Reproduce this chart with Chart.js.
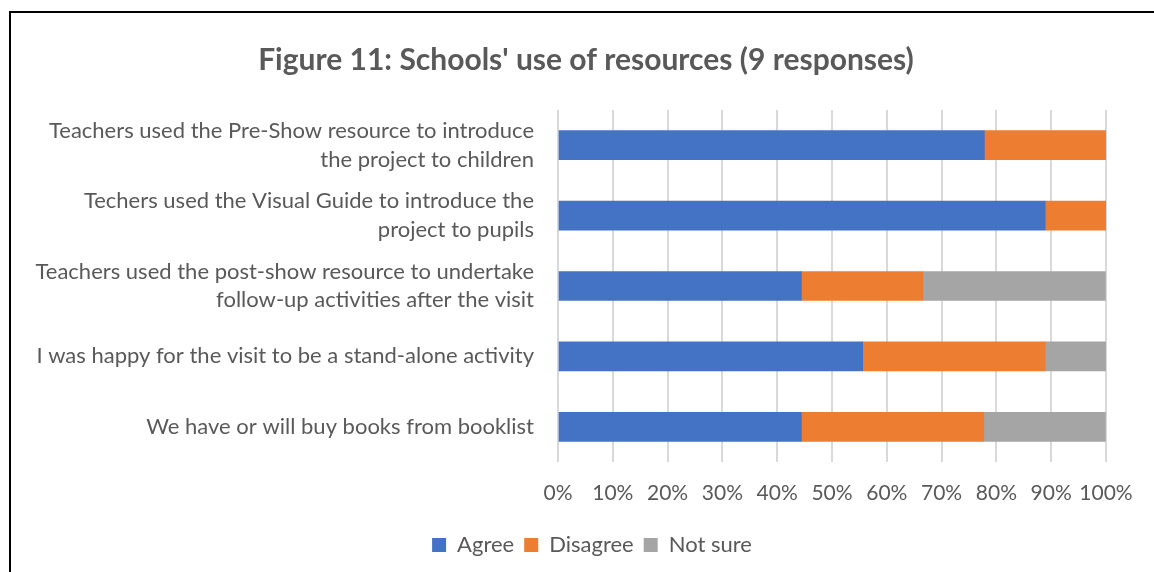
<!DOCTYPE html>
<html>
<head>
<meta charset="utf-8">
<script src="https://cdn.jsdelivr.net/npm/chart.js@4"></script>
<style>
    html, body { margin: 0; padding: 0; background: #fff; }
    .frame {
        position: absolute;
        left: 9px;
        top: 11px;
        width: 1145px;
        height: 561px;
        border-left: 2px solid #000;
        border-top: 2px solid #000;
    }
    #chartWrap {
        position: absolute;
        left: 0;
        top: 0;
        width: 1154px;
        height: 572px;
    }
</style>
</head>
<body>
<div class="frame"></div>
<div id="chartWrap"><canvas id="resourcesChart"></canvas></div>
<script>
// Categories (wrapped like the original)
const categories = [
    ['Teachers used the Pre-Show resource to introduce', 'the project to children'],
    ['Techers used the Visual Guide to introduce the', 'project to pupils'],
    ['Teachers used the post-show resource to undertake', 'follow-up activities after the visit'],
    'I was happy for the visit to be a stand-alone activity',
    'We have or will buy books from booklist'
];

// Percent of the 9 responses
const agree = [77.8, 88.9, 44.4, 55.6, 44.4];
const disagree = [22.2, 11.1, 22.2, 33.3, 33.3];
const notSure = [0, 0, 33.3, 11.1, 22.2];

const tickValues = [0, 10, 20, 30, 40, 50, 60, 70, 80, 90, 100];

const textColor = '#595959';
const fontFamily = 'Lato, "Open Sans", sans-serif';

// nudge title and legend a bit to the right, like the original
const boxShift = {
    id: 'boxShift',
    afterLayout: function (chart) {
        if (chart.titleBlock) {
            chart.titleBlock.left += 56;
        }
        if (chart.legend) {
            chart.legend.left += 68;
        }
    }
};

const ctx = document.getElementById('resourcesChart').getContext('2d');
const resourcesChart = new Chart(ctx, {
    type: 'bar',
    data: {
        labels: categories,
        datasets: [
            { label: 'Agree', data: agree, backgroundColor: '#4472C4' },
            { label: 'Disagree', data: disagree, backgroundColor: '#ED7D31' },
            { label: 'Not sure', data: notSure, backgroundColor: '#A5A5A5' }
        ]
    },
    options: {
        indexAxis: 'y',
        responsive: true,
        maintainAspectRatio: false,
        animation: false,
        barThickness: 29,
        layout: {
            padding: { left: 10, right: 48, top: 0, bottom: 6 }
        },
        scales: {
            x: {
                stacked: true,
                min: 0,
                max: 100,
                afterBuildTicks: function (axis) {
                    axis.ticks = tickValues.map(v => ({ value: v }));
                },
                afterFit: function (axis) {
                    axis.height = 62;
                },
                ticks: {
                    color: textColor,
                    font: { family: fontFamily, size: 21 },
                    padding: 19,
                    autoSkip: false,
                    maxRotation: 0,
                    callback: function (value) { return value + '%'; }
                },
                grid: {
                    color: '#d9d9d9',
                    lineWidth: 2,
                    drawTicks: false
                },
                border: { display: false }
            },
            y: {
                stacked: true,
                afterFit: function (axis) {
                    axis.width = 548;
                },
                ticks: {
                    color: textColor,
                    font: { family: fontFamily, size: 22, lineHeight: 1.3 },
                    padding: 16
                },
                grid: { display: false },
                border: { display: false }
            }
        },
        plugins: {
            title: {
                display: true,
                text: "Figure 11: Schools' use of resources (9 responses)",
                color: textColor,
                font: { family: fontFamily, size: 30, weight: 'bold' },
                padding: { top: 42, bottom: 32 }
            },
            legend: {
                position: 'bottom',
                labels: {
                    color: textColor,
                    font: { family: fontFamily, size: 22 },
                    boxWidth: 14,
                    boxHeight: 14,
                    padding: 10
                }
            },
            tooltip: { enabled: false }
        }
    },
    plugins: [boxShift]
});
</script>
</body>
</html>
